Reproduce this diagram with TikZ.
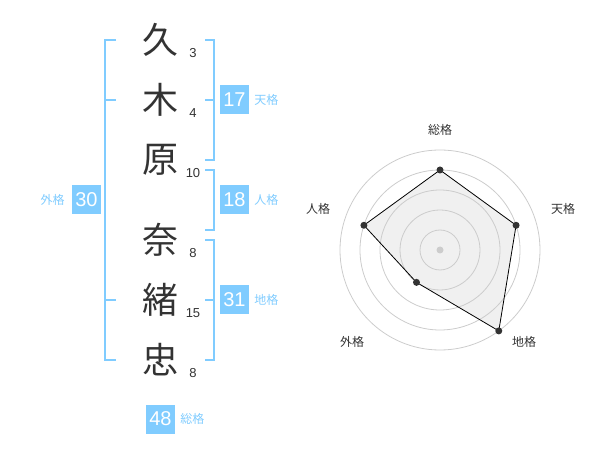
\documentclass[tikz,border=0pt]{standalone}
\usepackage{fontspec}
\setmainfont{Noto Sans CJK JP}
\newfontfamily\digits{Liberation Sans}
\usetikzlibrary{positioning}
\definecolor{kakublue}{RGB}{128,204,255}
\definecolor{inkgray}{RGB}{51,51,51}
\definecolor{ringgray}{RGB}{204,204,204}
\definecolor{areagray}{RGB}{240,240,240}
\tikzset{
  kanji/.style={font=\fontsize{36}{36}\selectfont, text=inkgray},
  strokes/.style={font=\digits\fontsize{13}{13}\selectfont, text=inkgray},
  kakubox/.style={fill=kakublue, text=white, minimum size=29pt, inner sep=0pt,
                  font=\digits\fontsize{20}{20}\selectfont},
  kakulabel/.style={text=kakublue, font=\fontsize{12}{12}\selectfont, inner sep=0pt},
  bracket/.style={draw=kakublue, line width=2pt},
  axislabel/.style={text=inkgray, font=\fontsize{12}{12}\selectfont},
  ring/.style={draw=ringgray, line width=0.8pt},
  vertex/.style={circle, fill=inkgray, inner sep=0pt, minimum size=7pt}
}
\begin{document}
\begin{tikzpicture}[x=1pt,y=-1pt]
    \useasboundingbox (0,0) rectangle (600,470);

    % name
    \node[kanji] (K1) at (160,  40) {久};
    \node[kanji] (K2) at (160, 100) {木};
    \node[kanji] (K3) at (160, 160) {原};
    \node[kanji] (K4) at (160, 240) {奈};
    \node[kanji] (K5) at (160, 300) {緒};
    \node[kanji] (K6) at (160, 360) {忠};

    \node[strokes] (S1) at (193,  53) {3};
    \node[strokes] (S2) at (193, 113) {4};
    \node[strokes] (S3) at (193, 173) {10};
    \node[strokes] (S4) at (193, 253) {8};
    \node[strokes] (S5) at (193, 313) {15};
    \node[strokes] (S6) at (193, 373) {8};

    % brackets
    \draw[bracket] (116, 40) -- (105, 40) -- (105,360) -- (116,360);
    \draw[bracket] (105,100) -- (116,100);
    \draw[bracket] (105,300) -- (116,300);
    \draw[bracket] (205, 40) -- (214, 40) -- (214,160) -- (205,160);
    \draw[bracket] (214,100) -- (205,100);
    \draw[bracket] (205,170) -- (214,170) -- (214,230) -- (205,230);
    \draw[bracket] (205,240) -- (214,240) -- (214,360) -- (205,360);
    \draw[bracket] (214,300) -- (205,300);

    % kaku
    \node[kakubox] (gai)  at ( 86.5,200) {30};
    \node[kakubox] (ten)  at (234.5,100) {17};
    \node[kakubox] (jin)  at (234.5,200) {18};
    \node[kakubox] (chi)  at (234.5,300) {31};
    \node[kakubox] (sou)  at (160.5,419) {48};
    \node[kakulabel, left =7pt of gai] (gaiL) {外格};
    \node[kakulabel, right=5pt of ten] (tenL) {天格};
    \node[kakulabel, right=5pt of jin] (jinL) {人格};
    \node[kakulabel, right=5pt of chi] (chiL) {地格};
    \node[kakulabel, right=5pt of sou] (souL) {総格};

    % radar
    \begin{scope}[shift={(440,250)}, y=1pt]
        \fill[areagray] (90:80) -- (18:80) -- (-54:100) -- (-126:40) -- (162:80) -- cycle;
        \foreach \r in {20,40,60,80,100}
            \draw[ring] (0,0) circle (\r);
        \draw[line width=0.8pt, black] (90:80) -- (18:80) -- (-54:100) -- (-126:40) -- (162:80) -- cycle;
        \node[circle, fill=ringgray, inner sep=0pt, minimum size=7pt] (C) at (0,0) {};
        \node[vertex] (V1) at (90:80) {};
        \node[vertex] (V2) at (18:80) {};
        \node[vertex] (V3) at (-54:100) {};
        \node[vertex] (V4) at (-126:40) {};
        \node[vertex] (V5) at (162:80) {};
        \node[axislabel] (A1) at (0,120) {総格};
        \node[axislabel] (A2) at (123,41) {天格};
        \node[axislabel] (A3) at (84,-92) {地格};
        \node[axislabel] (A4) at (-88,-92) {外格};
        \node[axislabel] (A5) at (-122,41) {人格};
    \end{scope}
\end{tikzpicture}
\end{document}
